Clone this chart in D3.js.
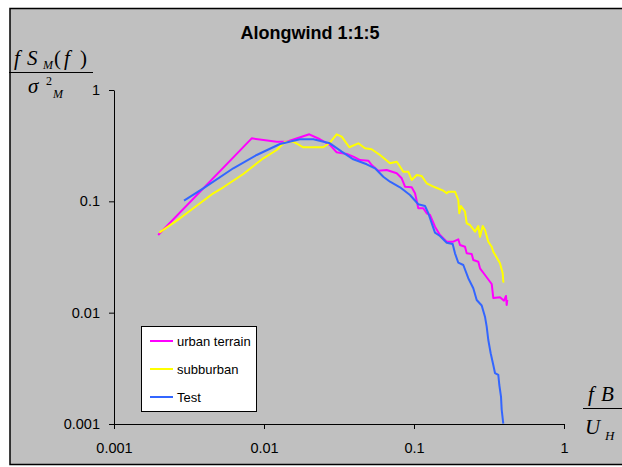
<!DOCTYPE html>
<html>
<head>
<meta charset="utf-8">
<script src="https://cdn.jsdelivr.net/npm/d3@7"></script>
<style>
  html, body { margin: 0; padding: 0; background: #ffffff; }
  svg { display: block; }
</style>
</head>
<body>
<svg id="chart" width="622" height="467"></svg>
<script>
// ---------- data ----------
const titleText = "Alongwind 1:1:5";
const seriesNames = ["urban terrain", "subburban", "Test"];
const xTicks = [0.001, 0.01, 0.1, 1];
const xTickLabels = ["0.001", "0.01", "0.1", "1"];
const yTicks = [0.001, 0.01, 0.1, 1];
const yTickLabels = ["0.001", "0.01", "0.1", "1"];

const urbanX = [0.00197, 0.00828, 0.01215, 0.01417, 0.02004, 0.0236, 0.0275, 0.0305, 0.0356, 0.0394,
  0.0437, 0.0496, 0.0522, 0.0578, 0.0658, 0.0767, 0.0828, 0.0871, 0.0965, 0.1016,
  0.1068, 0.1153, 0.1215, 0.1278, 0.138, 0.149, 0.1652, 0.1828, 0.1974, 0.2026,
  0.2188, 0.2246, 0.2425, 0.2485, 0.2684, 0.2754, 0.2973, 0.3296, 0.3378, 0.3744,
  0.3981, 0.4105, 0.415, 0.4188];
const urbanY = [0.0499, 0.368, 0.343, 0.343, 0.400, 0.361, 0.321, 0.276, 0.266, 0.252,
  0.235, 0.232, 0.212, 0.188, 0.191, 0.1785, 0.161, 0.1353, 0.1337, 0.1181,
  0.0866, 0.0866, 0.0781, 0.0754, 0.0592, 0.0499, 0.0434, 0.0434, 0.0456, 0.0405,
  0.0391, 0.0341, 0.0337, 0.0297, 0.0287, 0.0250, 0.0218, 0.0181, 0.01355, 0.01374,
  0.01281, 0.01412, 0.01172, 0.0130];

const suburbX = [0.002004, 0.002754, 0.003744, 0.004592, 0.005354, 0.007278, 0.009893, 0.01215, 0.0138, 0.01568,
  0.01828, 0.02485, 0.0275, 0.0305, 0.03296, 0.03705, 0.04253, 0.04713, 0.0522, 0.05933,
  0.06918, 0.0767, 0.07943, 0.08485, 0.09162, 0.0965, 0.1042, 0.1125, 0.1215, 0.138,
  0.1568, 0.1652, 0.1693, 0.1876, 0.1974, 0.2004, 0.2057, 0.2188, 0.2246, 0.2362,
  0.2551, 0.2684, 0.2754, 0.2871, 0.2973, 0.3129, 0.3296, 0.3378, 0.3744, 0.3902,
  0.3938, 0.400];
const suburbY = [0.0523, 0.0704, 0.0960, 0.1181, 0.1337, 0.176, 0.2435, 0.289, 0.343, 0.343,
  0.306, 0.306, 0.336, 0.400, 0.381, 0.306, 0.332, 0.2995, 0.2934, 0.2608,
  0.2196, 0.227, 0.212, 0.1846, 0.1846, 0.1555, 0.1724, 0.1689, 0.1452, 0.1337,
  0.1246, 0.1181, 0.1221, 0.1221, 0.1028, 0.0781, 0.0908, 0.0807, 0.0635, 0.0613,
  0.0534, 0.0600, 0.0481, 0.0600, 0.0553, 0.0434, 0.0391, 0.0353, 0.0278, 0.0226,
  0.0190, 0.0190];

const testX = [0.002929, 0.003938, 0.006242, 0.00894, 0.01278, 0.01738, 0.02132, 0.0275, 0.03296, 0.0394,
  0.04839, 0.05495, 0.06242, 0.06918, 0.08067, 0.09404, 0.1068, 0.1184, 0.1246, 0.1312,
  0.138, 0.149, 0.1652, 0.1811, 0.1876, 0.1974, 0.2132, 0.2301, 0.2485, 0.2618,
  0.2827, 0.2973, 0.3052, 0.3129, 0.3245, 0.3378, 0.3467, 0.3648, 0.3705, 0.3802,
  0.3843, 0.3938];
const testY = [0.1013, 0.1309, 0.1981, 0.2608, 0.3273, 0.361, 0.361, 0.332, 0.2792, 0.2385,
  0.2151, 0.1981, 0.1665, 0.1501, 0.1337, 0.1140, 0.0941, 0.0908, 0.0781, 0.0635,
  0.0523, 0.0488, 0.0425, 0.0414, 0.0341, 0.0281, 0.0268, 0.0204, 0.01655, 0.0130,
  0.0116, 0.0092, 0.00748, 0.00568, 0.00432, 0.00339, 0.00287, 0.00276, 0.00224, 0.00176,
  0.00134, 0.00101];

const seriesColors = ["#ff00ff", "#ffff00", "#3366ff"];

// ---------- drawing ----------
const svg = d3.select("#chart");
const font = "'Liberation Sans', Arial, sans-serif";
const serif = "'Liberation Serif', 'Times New Roman', serif";

svg.append("rect").attr("width", 622).attr("height", 467).attr("fill", "#ffffff");
svg.append("rect")
  .attr("x", 10).attr("y", 8.5).attr("width", 640).attr("height", 456)
  .attr("fill", "#c0c0c0").attr("stroke", "#000").attr("stroke-width", 1.5);

const x = d3.scaleLog().domain([0.001, 1]).range([114, 564]);
const y = d3.scaleLog().domain([0.001, 1]).range([424, 90]);

// axes
const xAxis = svg.append("g").attr("transform", "translate(0,424)")
  .call(d3.axisBottom(x).tickValues(xTicks).tickFormat((d, i) => xTickLabels[i])
    .tickSize(5).tickSizeOuter(0).tickPadding(14));
const yAxis = svg.append("g").attr("transform", "translate(114,0)")
  .call(d3.axisLeft(y).tickValues(yTicks).tickFormat((d, i) => yTickLabels[i])
    .tickSize(5).tickSizeOuter(0).tickPadding(9));
[xAxis, yAxis].forEach(g => {
  g.selectAll("path.domain").attr("stroke", "#000").attr("stroke-width", 1);
  g.selectAll(".tick line").attr("stroke", "#000").attr("stroke-width", 1);
  g.selectAll("text").attr("font-family", font).attr("font-size", 14.5).attr("fill", "#000");
});

// series
const seriesData = [
  d3.zip(urbanX, urbanY),
  d3.zip(suburbX, suburbY),
  d3.zip(testX, testY)
];
const line = d3.line().x(d => x(d[0])).y(d => y(d[1]));
seriesData.forEach((s, i) => {
  svg.append("path").datum(s)
    .attr("d", line)
    .attr("fill", "none")
    .attr("stroke", seriesColors[i])
    .attr("stroke-width", 2)
    .attr("stroke-linejoin", "round");
});

// title
svg.append("text").attr("x", 310).attr("y", 39).attr("text-anchor", "middle")
  .attr("font-family", font).attr("font-size", 18).attr("font-weight", "bold")
  .attr("fill", "#000").text(titleText);

// y label (fraction)
const yl = svg.append("g").attr("font-family", serif).attr("font-style", "italic").attr("fill", "#000");
function put(g, txt, px, py, size, style) {
  g.append("text").attr("x", px).attr("y", py).attr("font-size", size)
    .attr("font-style", style || "italic").text(txt);
}
put(yl, "f", 14, 65, 21);
put(yl, "S", 27, 65, 21);
put(yl, "M", 43, 69, 12);
put(yl, "(", 54, 65, 21, "normal");
put(yl, "f", 64, 65, 21);
put(yl, ")", 80, 65, 21, "normal");
yl.append("line").attr("x1", 9).attr("x2", 93).attr("y1", 72.5).attr("y2", 72.5)
  .attr("stroke", "#000").attr("stroke-width", 1);
put(yl, "σ", 28, 93, 21);
put(yl, "2", 46, 84.5, 12, "normal");
put(yl, "M", 53, 98, 12);

// x label (fraction)
const xl = svg.append("g").attr("font-family", serif).attr("font-style", "italic").attr("fill", "#000");
put(xl, "f", 588, 401, 21);
put(xl, "B", 601, 401, 21);
xl.append("line").attr("x1", 583).attr("x2", 640).attr("y1", 408.5).attr("y2", 408.5)
  .attr("stroke", "#000").attr("stroke-width", 1);
put(xl, "U", 585, 434, 21);
put(xl, "H", 605, 440, 13);

// legend
const lg = svg.append("g");
lg.append("rect").attr("x", 141.5).attr("y", 326.5).attr("width", 115).attr("height", 85)
  .attr("fill", "#fff").attr("stroke", "#000").attr("stroke-width", 1);
const legendRows = [341, 369, 397];
seriesNames.forEach((name, i) => {
  lg.append("line").attr("x1", 150).attr("x2", 173).attr("y1", legendRows[i]).attr("y2", legendRows[i])
    .attr("stroke", seriesColors[i]).attr("stroke-width", 2);
  lg.append("text").attr("x", 177).attr("y", legendRows[i]).attr("dy", "0.35em")
    .attr("font-family", font).attr("font-size", 13).attr("fill", "#000").text(name);
});
</script>
</body>
</html>
